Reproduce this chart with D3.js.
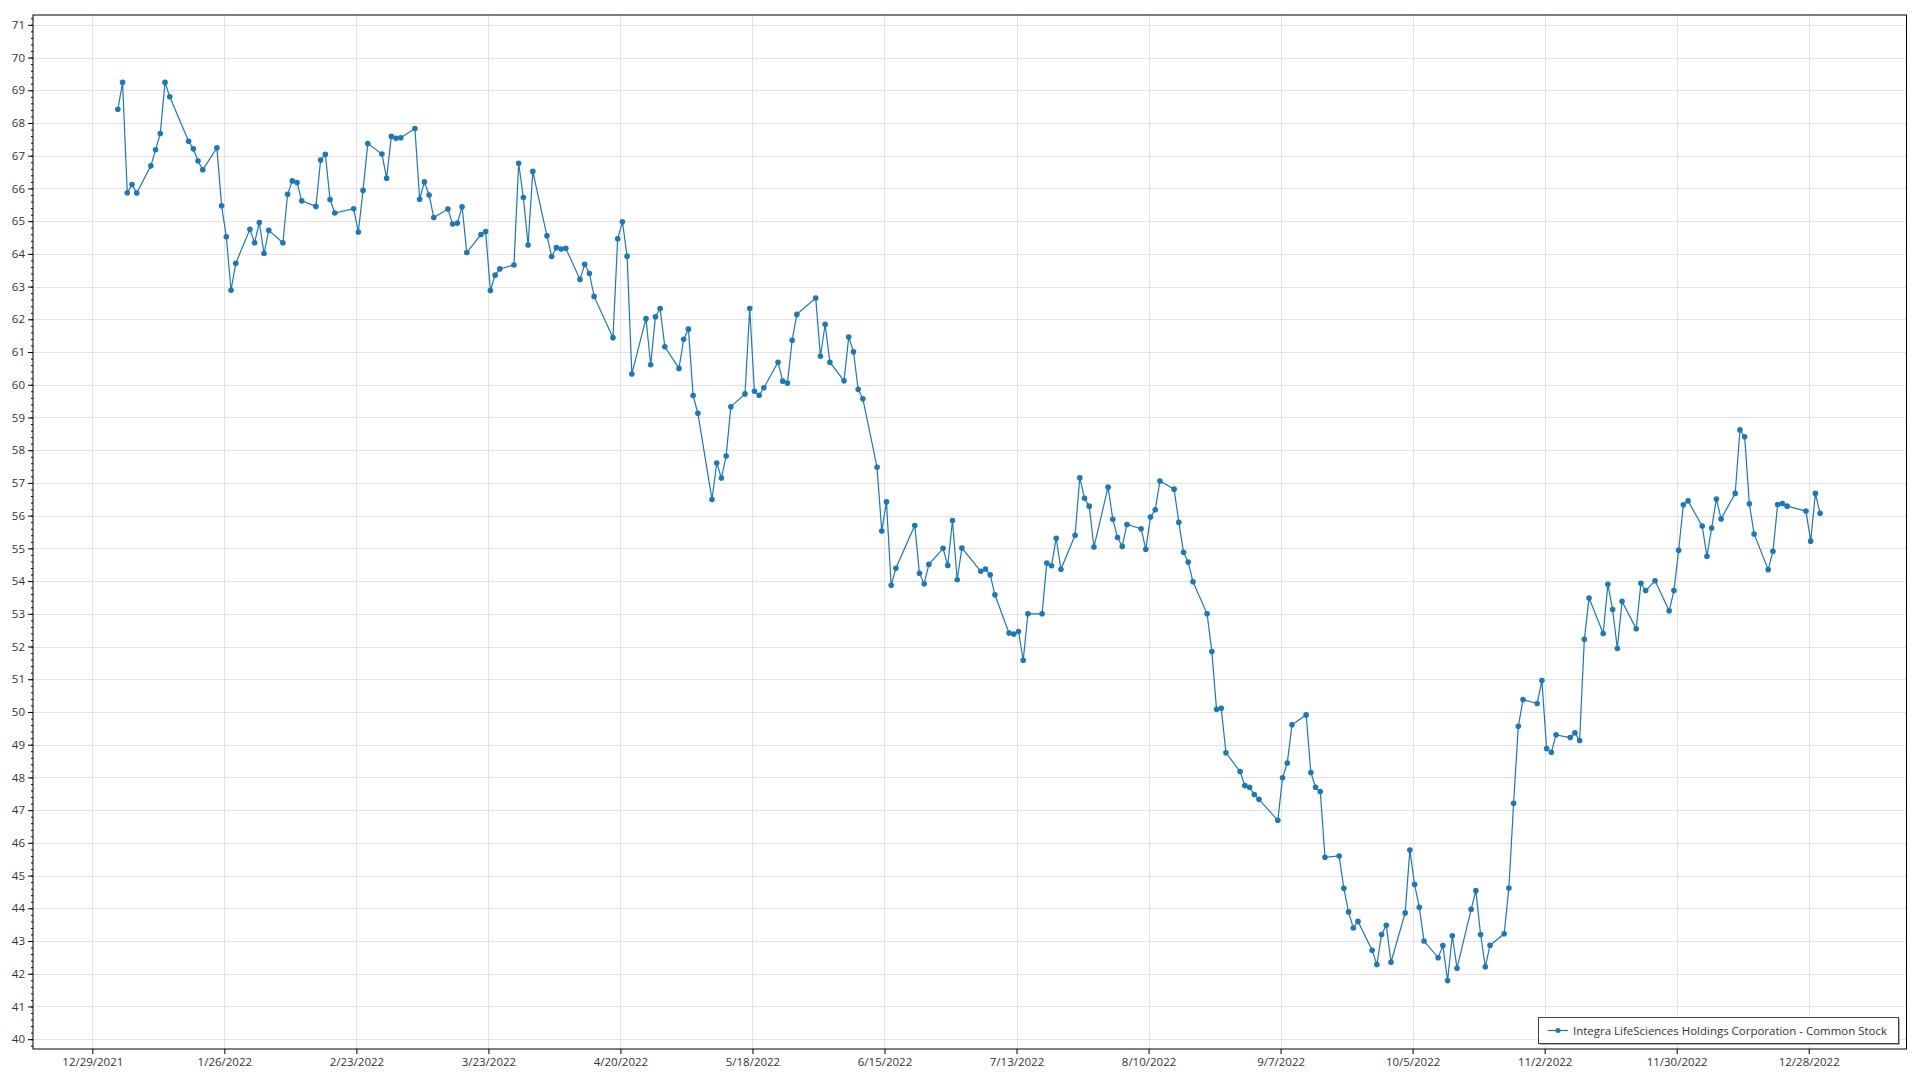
<!DOCTYPE html>
<html>
<head>
<meta charset="utf-8">
<script src="https://cdn.jsdelivr.net/npm/d3@7"></script>
<style>
html,body{margin:0;padding:0;background:#fff;}
svg{display:block;}
text{font-family:"Segoe UI","Open Sans","Noto Sans",sans-serif;}
</style>
</head>
<body>
<svg id="chart" width="1920" height="1080"></svg>
<script>
// ---- data ----
const seriesName = "Integra LifeSciences Holdings Corporation - Common Stock";
const year = 2022;
// trading days per month (day of month)
const tradingDays = [
  [3,4,5,6,7,10,11,12,13,14,18,19,20,21,24,25,26,27,28,31],
  [1,2,3,4,7,8,9,10,11,14,15,16,17,18,22,23,24,25,28],
  [1,2,3,4,7,8,9,10,11,14,15,16,17,18,21,22,23,24,25,28,29,30,31],
  [1,4,5,6,7,8,11,12,13,14,18,19,20,21,22,25,26,27,28,29],
  [2,3,4,5,6,9,10,11,12,13,16,17,18,19,20,23,24,25,26,27,31],
  [1,2,3,6,7,8,9,10,13,14,15,16,17,21,22,23,24,27,28,29,30],
  [1,5,6,7,8,11,12,13,14,15,18,19,20,21,22,25,26,27,28,29],
  [1,2,3,4,5,8,9,10,11,12,15,16,17,18,19,22,23,24,25,26,29,30,31],
  [1,2,6,7,8,9,12,13,14,15,16,19,20,21,22,23,26,27,28,29,30],
  [3,4,5,6,7,10,11,12,13,14,17,18,19,20,21,24,25,26,27,28,31],
  [1,2,3,4,7,8,9,10,11,14,15,16,17,18,21,22,23,25,28,29,30],
  [1,2,5,6,7,8,9,12,13,14,15,16,19,20,21,22,23,27,28,29,30]
];
const closeJan = [68.42,69.24,65.87,66.12,65.86,66.69,67.18,67.68,69.24,68.80,67.44,67.21,66.84,66.57,67.24,65.47,64.52,62.89,63.71,64.75];
const closeFeb = [64.34,64.96,64.01,64.72,64.34,65.82,66.23,66.18,65.62,65.45,66.87,67.04,65.66,65.25,65.38,64.67,65.94,67.37,67.05];
const closeMar = [66.31,67.59,67.53,67.55,67.83,65.67,66.20,65.80,65.11,65.37,64.91,64.94,65.44,64.04,64.59,64.68,62.88,63.35,63.54,63.66,66.77,65.72,64.27];
const closeApr = [66.52,64.55,63.92,64.19,64.15,64.17,63.22,63.68,63.40,62.70,61.44,64.46,64.98,63.93,60.33,62.02,60.61,62.08,62.33,61.16];
const closeMay = [60.50,61.39,61.70,59.67,59.13,56.49,57.61,57.15,57.82,59.33,59.72,62.33,59.80,59.68,59.91,60.69,60.11,60.05,61.36,62.15,62.65];
const closeJun = [60.87,61.85,60.69,60.12,61.46,61.01,59.86,59.57,57.48,55.53,56.42,53.87,54.39,55.70,54.24,53.92,54.51,55.00,54.48,55.85,54.04];
const closeJul = [55.01,54.30,54.37,54.19,53.58,52.41,52.38,52.46,51.58,53.00,53.00,54.55,54.47,55.31,54.36,55.40,57.16,56.53,56.29,55.04];
const closeAug = [56.87,55.89,55.33,55.06,55.73,55.60,54.97,55.96,56.18,57.06,56.81,55.80,54.88,54.58,53.98,53.00,51.85,50.08,50.11,48.75,48.18,47.75,47.70];
const closeSep = [47.48,47.33,46.69,47.99,48.44,49.61,49.91,48.15,47.70,47.57,45.56,45.60,44.61,43.89,43.40,43.60,42.72,42.28,43.20,43.48,42.35];
const closeOct = [43.86,45.78,44.73,44.03,43.00,42.49,42.86,41.79,43.16,42.17,43.97,44.54,43.20,42.21,42.87,43.22,44.62,47.21,49.56,50.38,50.26];
const closeNov = [50.96,48.88,48.77,49.30,49.22,49.36,49.13,52.22,53.48,52.40,53.90,53.13,51.94,53.38,52.54,53.93,53.71,54.01,53.09,53.71,54.94];
const closeDec = [56.33,56.45,55.68,54.76,55.62,56.51,55.90,56.68,58.62,58.41,56.36,55.44,54.35,54.91,56.34,56.37,56.29,56.14,55.22,56.68,56.07];
const closeByMonth = [closeJan,closeFeb,closeMar,closeApr,closeMay,closeJun,closeJul,closeAug,closeSep,closeOct,closeNov,closeDec];
const xTickLabels = ["12/29/2021","1/26/2022","2/23/2022","3/23/2022","4/20/2022","5/18/2022","6/15/2022","7/13/2022","8/10/2022","9/7/2022","10/5/2022","11/2/2022","11/30/2022","12/28/2022"];
const yTickValues = d3.range(40, 72, 1);

// ---- build table ----
const data = [];
tradingDays.forEach((days, m) => {
  days.forEach((d, i) => {
    data.push({date: new Date(year, m, d, 10), value: closeByMonth[m][i]});
  });
});
const parseTick = d3.timeParse("%m/%d/%Y");
const xTicks = xTickLabels.map(s => parseTick(s));

// ---- layout ----
const svg = d3.select("#chart");
const L = 33, R = 1906.5, T = 15, B = 1049;
const DAY = 864e5;
const x = d3.scaleTime()
  .domain([new Date(xTicks[0].getTime() - 12.58 * DAY), new Date(xTicks[xTicks.length - 1].getTime() + 20.74 * DAY)])
  .range([L, R]);
const y = d3.scaleLinear().domain([39.7, 71.3]).range([B, T]);

const color = "#1f77b4";
const gridColor = "#e3e3e3";
const textColor = "#333333";

// grid
const g = svg.append("g");
g.selectAll("line.hg").data(yTickValues).join("line")
  .attr("x1", L).attr("x2", R)
  .attr("y1", d => Math.round(y(d)) + 0.5).attr("y2", d => Math.round(y(d)) + 0.5)
  .attr("stroke", gridColor).attr("stroke-width", 1);
g.selectAll("line.vg").data(xTicks).join("line")
  .attr("y1", T).attr("y2", B)
  .attr("x1", d => Math.round(x(d)) + 0.5).attr("x2", d => Math.round(x(d)) + 0.5)
  .attr("stroke", gridColor).attr("stroke-width", 1);

// axes
const yAxis = d3.axisLeft(y).tickValues(yTickValues).tickFormat(d3.format("d")).tickSize(5).tickPadding(3);
const yMinor = d3.axisLeft(y).tickValues(d3.range(39.8, 71.3, 0.2)).tickFormat("").tickSize(2);
const xAxis = d3.axisBottom(x).tickValues(xTicks).tickFormat((d, i) => xTickLabels[i]).tickSize(5).tickPadding(4);

const ya = svg.append("g").attr("transform", `translate(${L},0)`).call(yAxis);
svg.append("g").attr("transform", `translate(${L},0)`).call(yMinor).call(s => s.select(".domain").remove());
const xa = svg.append("g").attr("transform", `translate(0,${B})`).call(xAxis);
[ya, xa].forEach(a => {
  a.select(".domain").remove();
  a.selectAll("text").attr("fill", textColor).style("font-size", "11.5px");
  a.selectAll("line").attr("stroke", "#000");
});
svg.selectAll(".tick line").attr("stroke", "#000");

// plot border
svg.append("rect").attr("x", L).attr("y", T).attr("width", R - L).attr("height", B - T)
  .attr("fill", "none").attr("stroke", "#000").attr("stroke-width", 1);

// series
const line = d3.line().x(d => x(d.date)).y(d => y(d.value));
svg.append("path").datum(data).attr("d", line)
  .attr("fill", "none").attr("stroke", color).attr("stroke-width", 1.2);
svg.append("g").selectAll("circle").data(data).join("circle")
  .attr("cx", d => x(d.date)).attr("cy", d => y(d.value)).attr("r", 2.8)
  .attr("fill", color);

// legend
const lg = svg.append("g").attr("transform", "translate(1538,1017)");
const lw = 360, lh = 26;
lg.append("rect").attr("x", 2).attr("y", 2).attr("width", lw).attr("height", lh).attr("fill", "#b0b0b0");
lg.append("rect").attr("x", 0.5).attr("y", 0.5).attr("width", lw).attr("height", lh)
  .attr("fill", "#fff").attr("stroke", "#404040").attr("stroke-width", 1);
lg.append("line").attr("x1", 10).attr("x2", 30).attr("y1", 13.5).attr("y2", 13.5)
  .attr("stroke", color).attr("stroke-width", 1.2);
lg.append("circle").attr("cx", 20).attr("cy", 13.5).attr("r", 2.5).attr("fill", color);
lg.append("text").attr("x", 35).attr("y", 18).attr("fill", textColor)
  .style("font-size", "11.4px").attr("textLength", 314).attr("lengthAdjust", "spacingAndGlyphs")
  .text(seriesName);
</script>
</body>
</html>
